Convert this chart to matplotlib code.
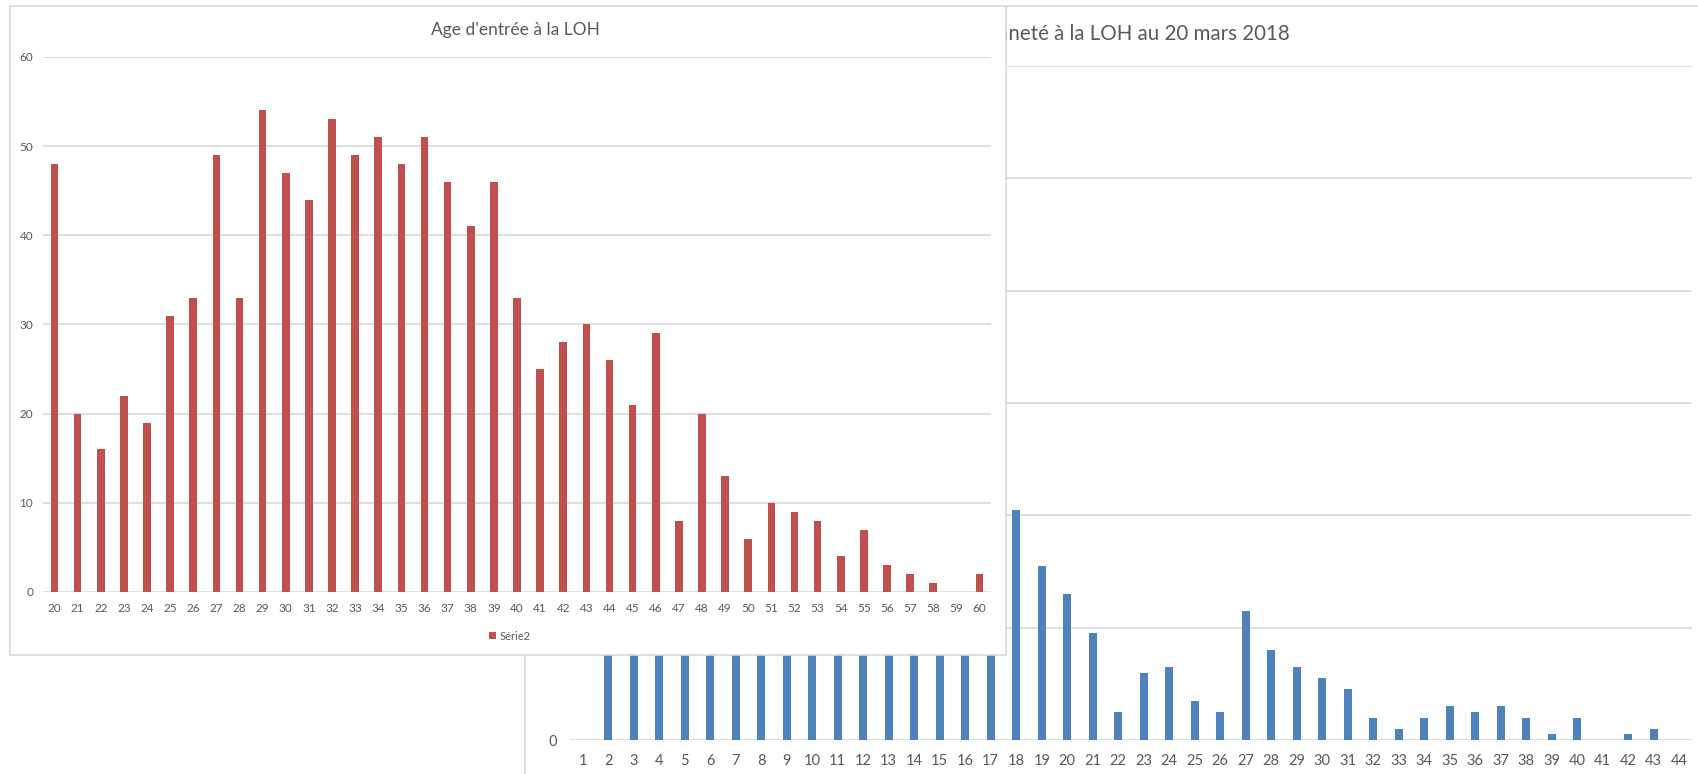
import matplotlib
matplotlib.use("Agg")
import matplotlib.pyplot as plt
from matplotlib.patches import Rectangle

W, H = 1699, 774

# ── Data ──────────────────────────────────────────────────────────────────────
# front chart: "Age d'entrée à la LOH"
age_labels = list(range(20, 61))
age_counts = [48, 20, 16, 22, 19, 31, 33, 49, 33, 54,
              47, 44, 53, 49, 51, 48, 51, 46, 41, 46,
              33, 25, 28, 30, 26, 21, 29, 8, 20, 13,
              6, 10, 9, 8, 4, 7, 3, 2, 1, 0, 2]

# back chart: "Ancienneté à la LOH au 20 mars 2018"
# bars 2-17 are hidden behind the front chart, values there are estimates
anc_labels = list(range(1, 45))
anc_counts = [0, 60, 55, 70, 48, 52, 45, 58, 40, 66, 50, 38, 44, 35, 47, 30, 36,
              41, 31, 26, 19, 5, 12, 13, 7, 5, 23, 16, 13, 11, 9,
              4, 2, 4, 6, 5, 6, 4, 1, 4, 0, 1, 2, 0]

age_ticks = [0, 10, 20, 30, 40, 50, 60]
anc_ticks = [0, 20, 40, 60, 80, 100, 120]

RED   = "#C0504D"
BLUE  = "#4F81BD"
TXT   = "#595959"
GRID  = "#D9D9D9"
FONT  = "Lato"

plt.rcParams["font.family"] = [FONT, "DejaVu Sans"]


def px_box(left, top, right, bottom):
    """pixel box (origin top-left) -> figure fraction rect"""
    return [left / W, 1 - bottom / H, (right - left) / W, (bottom - top) / H]


fig = plt.figure(figsize=(W / 100, H / 100), dpi=100)
fig.patch.set_facecolor("white")

# ── Back chart (blue) ─────────────────────────────────────────────────────────
fig.add_artist(Rectangle((525 / W, -0.2), 1.0, 1.2 - 6 / H,
                         transform=fig.transFigure, facecolor="white",
                         edgecolor=GRID, lw=1.2, zorder=0.1))

ax_b = fig.add_axes(px_box(570, 66, 1692, 740), zorder=0.3)
ax_b.patch.set_alpha(0)
ax_b.bar(anc_labels, anc_counts, width=0.3, color=BLUE, zorder=2)
ax_b.set_xlim(0.5, 44.5)
ax_b.set_ylim(0, 120)
ax_b.set_yticks(anc_ticks)
ax_b.set_xticks(anc_labels)
ax_b.set_xticklabels([str(v) for v in anc_labels])
ax_b.tick_params(axis="both", length=0, labelsize=10.5, colors=TXT)
ax_b.tick_params(axis="y", pad=9)
ax_b.tick_params(axis="x", pad=10)
ax_b.yaxis.grid(True, color=GRID, lw=1.2)
ax_b.set_axisbelow(True)
for s in ax_b.spines.values():
    s.set_visible(False)

# title partly hidden by the front chart
fig.text(1290 / W, 1 - 34 / H, "Ancienneté à la LOH au 20 mars 2018",
         ha="right", va="center", fontsize=14.8, color=TXT, zorder=0.4)

# ── Front chart (red) ─────────────────────────────────────────────────────────
fig.add_artist(Rectangle((10 / W, 1 - 655 / H), (1006 - 10) / W, (655 - 6) / H,
                         transform=fig.transFigure, facecolor="white",
                         edgecolor=GRID, lw=1.2, zorder=1))

ax_r = fig.add_axes(px_box(43, 57, 991, 592), zorder=2)
ax_r.patch.set_alpha(0)
ax_r.bar(age_labels, age_counts, width=0.33, color=RED, zorder=2, label="Série2")
ax_r.set_xlim(19.5, 60.5)
ax_r.set_ylim(0, 60)
ax_r.set_yticks(age_ticks)
ax_r.set_xticks(age_labels)
ax_r.set_xticklabels([str(v) for v in age_labels])
ax_r.tick_params(axis="both", length=0, labelsize=8.5, colors=TXT)
ax_r.tick_params(axis="y", pad=7)
ax_r.tick_params(axis="x", pad=8)
ax_r.yaxis.grid(True, color=GRID, lw=1.2)
ax_r.set_axisbelow(True)
for s in ax_r.spines.values():
    s.set_visible(False)

fig.text(515 / W, 1 - 30 / H, "Age d'entrée à la LOH",
         ha="center", va="center", fontsize=12.5, color=TXT, zorder=3)

ax_r.legend(loc="center", bbox_to_anchor=(510 / W, 1 - 636 / H),
            bbox_transform=fig.transFigure, frameon=False, fontsize=8,
            handlelength=0.6, handleheight=0.6, handletextpad=0.4,
            labelcolor=TXT)

fig.savefig("out.png", dpi=100, facecolor="white")
